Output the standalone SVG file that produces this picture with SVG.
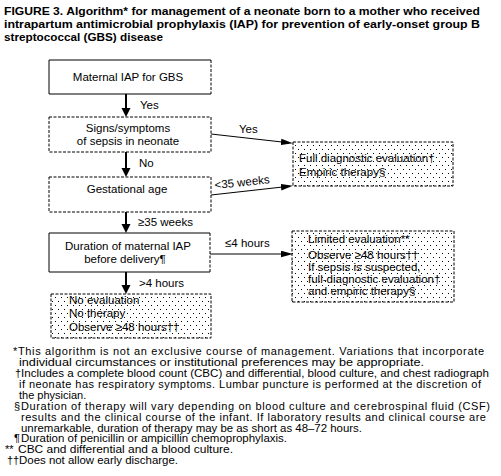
<svg xmlns="http://www.w3.org/2000/svg" width="501" height="476" viewBox="0 0 501 476">
<style>
text{font-family:"Liberation Sans",Arial,sans-serif;fill:#000}
.t{font-size:11.5px;font-weight:bold}
.b{font-size:11.5px}
.f{font-size:11px}
.solid{fill:none;stroke:#000;stroke-width:1}
.dash{fill:none;stroke:#000;stroke-width:1;stroke-dasharray:3 1.5}
.dot{fill:url(#dots);stroke:#000;stroke-width:1;stroke-dasharray:3 1.5}
.va{stroke:#000;stroke-width:2;fill:none}
.ha{stroke:#000;stroke-width:1;fill:none}
</style>
<defs>
<pattern id="dots" width="6" height="8" patternUnits="userSpaceOnUse">
<rect width="6" height="8" fill="#fff"/>
<rect x="1" y="1" width="1" height="1" fill="#000"/>
<rect x="4" y="5" width="1" height="1" fill="#000"/>
</pattern>
<marker id="vh" markerUnits="userSpaceOnUse" markerWidth="10" markerHeight="10" refX="0" refY="4.5" orient="auto" viewBox="0 0 10 9">
<path d="M0,0 L9,4.5 L0,9 z" fill="#000"/>
</marker>
<marker id="hh" markerUnits="userSpaceOnUse" markerWidth="12" markerHeight="7" refX="0" refY="3" orient="auto" viewBox="0 0 11 6">
<path d="M0,0 L11,3 L0,6 z" fill="#000"/>
</marker>
</defs>
<rect width="501" height="476" fill="#fff"/>

<g id="title">
<text class="t" x="4" y="15" textLength="476" lengthAdjust="spacingAndGlyphs">FIGURE 3. Algorithm* for management of a neonate born to a mother who received</text>
<text class="t" x="4" y="28" textLength="476" lengthAdjust="spacingAndGlyphs">intrapartum antimicrobial prophylaxis (IAP) for prevention of early-onset group B</text>
<text class="t" x="4" y="41" textLength="159" lengthAdjust="spacingAndGlyphs">streptococcal (GBS) disease</text>
</g>

<g id="connectors">
<line class="va" x1="126" y1="94" x2="126" y2="108" marker-end="url(#vh)"/>
<line class="va" x1="126" y1="152" x2="126" y2="168" marker-end="url(#vh)"/>
<line class="va" x1="126" y1="212" x2="126" y2="224" marker-end="url(#vh)"/>
<line class="va" x1="126" y1="272" x2="126" y2="285" marker-end="url(#vh)"/>
<line class="ha" x1="211" y1="134" x2="281" y2="141.9" marker-end="url(#hh)"/>
<line class="ha" x1="211" y1="195" x2="281" y2="187.2" marker-end="url(#hh)"/>
<line class="ha" x1="210" y1="254" x2="281" y2="254" marker-end="url(#hh)"/>
<text class="b" x="140" y="109">Yes</text>
<text class="b" x="139" y="167">No</text>
<text class="b" x="138" y="226">≥35 weeks</text>
<text class="b" x="139" y="287">&gt;4 hours</text>
<text class="b" x="239" y="133">Yes</text>
<text class="b" x="215" y="189" transform="rotate(-6 215 189)">&lt;35 weeks</text>
<text class="b" x="225" y="247">≤4 hours</text>
</g>

<g id="n1">
<path class="solid" d="M211,60 H49 V94 H211"/>
<line class="dash" x1="211" y1="60" x2="211" y2="94"/>
<text class="b" x="128" y="81" text-anchor="middle">Maternal IAP for GBS</text>
</g>

<g id="n2">
<rect class="dash" x="49" y="117" width="162" height="35"/>
<text class="b" x="128" y="132" text-anchor="middle">Signs/symptoms</text>
<text class="b" x="128" y="145" text-anchor="middle">of sepsis in neonate</text>
</g>

<g id="n3">
<rect class="dash" x="49" y="177" width="162" height="35"/>
<text class="b" x="127" y="193" text-anchor="middle">Gestational age</text>
</g>

<g id="n4">
<path class="solid" d="M210,233 H49 V272 H210"/>
<line class="dash" x1="210" y1="233" x2="210" y2="272"/>
<text class="b" x="128" y="250" text-anchor="middle">Duration of maternal IAP</text>
<text class="b" x="125" y="263" text-anchor="middle">before delivery¶</text>
</g>

<g id="n5">
<rect class="dot" x="51" y="294" width="160" height="44"/>
<text class="b" x="69" y="304">No evaluation</text>
<text class="b" x="69" y="317">No therapy</text>
<text class="b" x="69" y="331">Observe ≥48 hours††</text>
</g>

<g id="n6">
<rect class="dot" x="293" y="142" width="160" height="44"/>
<text class="b" x="299" y="162">Full diagnostic evaluation†</text>
<text class="b" x="299" y="176">Empiric therapy§</text>
</g>

<g id="n7">
<rect class="dot" x="292" y="231" width="162" height="71"/>
<text class="b" x="308" y="243">Limited evaluation**</text>
<text class="b" x="308" y="259">Observe ≥48 hours††</text>
<text class="b" x="308" y="271">If sepsis is suspected,</text>
<text class="b" x="308" y="283">full-diagnostic evaluation†</text>
<text class="b" x="308" y="295">and empiric therapy§</text>
</g>

<g id="footnotes">
<text class="f" x="13" y="355" textLength="471" lengthAdjust="spacing">*This algorithm is not an exclusive course of management. Variations that incorporate</text>
<text class="f" x="19" y="366" textLength="405" lengthAdjust="spacingAndGlyphs">individual circumstances or institutional preferences may be appropriate.</text>
<text class="f" x="15" y="377">†</text>
<text class="f" x="21" y="377" textLength="468" lengthAdjust="spacingAndGlyphs">Includes a complete blood count (CBC) and differential, blood culture, and chest radiograph</text>
<text class="f" x="19" y="388" textLength="462" lengthAdjust="spacing">if neonate has respiratory symptoms. Lumbar puncture is performed at the discretion of</text>
<text class="f" x="19" y="399">the physician.</text>
<text class="f" x="14" y="410" font-size="8">§</text>
<text class="f" x="21" y="410" textLength="469" lengthAdjust="spacing">Duration of therapy will vary depending on blood culture and cerebrospinal fluid (CSF)</text>
<text class="f" x="21" y="421" textLength="465" lengthAdjust="spacing">results and the clinical course of the infant. If laboratory results and clinical course are</text>
<text class="f" x="21" y="431.5" textLength="341" lengthAdjust="spacingAndGlyphs">unremarkable, duration of therapy may be as short as 48–72 hours.</text>
<text class="f" x="14" y="442" font-size="8">¶</text>
<text class="f" x="21" y="442" textLength="266" lengthAdjust="spacingAndGlyphs">Duration of penicillin or ampicillin chemoprophylaxis.</text>
<text class="f" x="5" y="453">**</text>
<text class="f" x="18" y="453" textLength="215" lengthAdjust="spacingAndGlyphs">CBC and differential and a blood culture.</text>
<text class="f" x="7" y="464">††</text>
<text class="f" x="19" y="464" textLength="159" lengthAdjust="spacingAndGlyphs">Does not allow early discharge.</text>
</g>
</svg>
